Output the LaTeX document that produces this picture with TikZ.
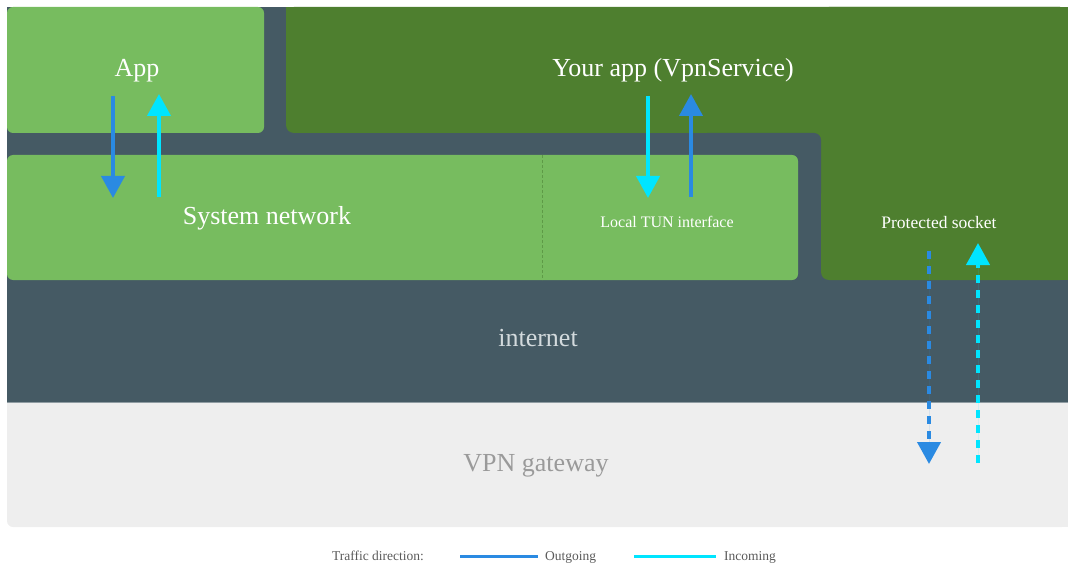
\documentclass[tikz,border=0pt]{standalone}
\usepackage{fontspec}
\setmainfont{Liberation Serif}
\usetikzlibrary{arrows.meta}
\definecolor{slate}{HTML}{455A64}
\definecolor{lgreen}{HTML}{77BC5F}
\definecolor{dgreen}{HTML}{4E7F2F}
\definecolor{lgrey}{HTML}{EEEEEE}
\definecolor{outblue}{HTML}{2A8AE2}
\definecolor{incyan}{HTML}{00E5FF}
\definecolor{divgreen}{HTML}{5E9A47}
\definecolor{nettext}{HTML}{D3DADD}
\definecolor{gwtext}{HTML}{9A9A9A}
\definecolor{legtext}{HTML}{5A5A5A}
\tikzset{
  bigtxt/.style={text=white, font=\fontsize{26}{30}\selectfont, inner sep=0pt, anchor=base},
  smalltxt/.style={text=white, font=\fontsize{16}{19}\selectfont, inner sep=0pt, anchor=base},
  flow/.style={line width=4pt, -{Triangle[width=23pt,length=22pt]}},
  outflow/.style={flow, draw=outblue, fill=outblue},
  inflow/.style={flow, draw=incyan, fill=incyan},
  dashflow/.style={dash pattern=on 8pt off 7pt},
  legline/.style={line width=3pt},
  legtxt/.style={text=legtext, font=\fontsize{13.5}{16}\selectfont, inner sep=0pt, anchor=base}
}
\begin{document}
\begin{tikzpicture}[x=1pt,y=-1pt]
\useasboundingbox (0,0) rectangle (1068,564);
% backgrounds
\fill[slate] (7,7) rectangle (1068,402);
\fill[lgrey, rounded corners=6] (7,402) rectangle (1068,527);
\fill[lgrey] (7,402) rectangle (1068,420);
\fill[lgrey] (1040,402) rectangle (1068,527);
\draw[slate!60!white, line width=0.8pt] (7,402.4) -- (1068,402.4);
\fill[lgreen, rounded corners=6] (7,7) rectangle (264,133);
% dark green L shape
\fill[dgreen, rounded corners=8] (286,7) rectangle (1068,133);
\fill[dgreen] (286,7) rectangle (1068,20);
\fill[dgreen, rounded corners=8] (821,7) rectangle (1068,280);
\fill[dgreen] (1040,7) rectangle (1068,280);
\fill[dgreen] (800,125) rectangle (821,150);
\fill[slate, rounded corners=7] (700,133) rectangle (821,200);
% system network
\fill[lgreen, rounded corners=6] (7,155) rectangle (798,280);
\draw[divgreen, line width=0.8pt, dash pattern=on 3pt off 2pt] (542,155) -- (542,280);
% labels
\node[bigtxt] (app) at (137,77) {App};
\node[bigtxt] (yourapp) at (673,77) {Your app (VpnService)};
\node[bigtxt] (sysnet) at (267,225) {System network};
\node[smalltxt] (tun) at (667,227) {Local TUN interface};
\node[smalltxt, font=\fontsize{17.5}{20}\selectfont] (psock) at (939,229) {Protected socket};
\node[bigtxt, text=nettext] (inet) at (538,346) {internet};
\node[bigtxt, text=gwtext] (gw) at (536,471) {VPN gateway};
% arrow end points
\coordinate (a1s) at (113,96);  \coordinate (a1e) at (113,198);
\coordinate (a2s) at (159,197); \coordinate (a2e) at (159,94);
\coordinate (b1s) at (648,96);  \coordinate (b1e) at (648,198);
\coordinate (b2s) at (691,197); \coordinate (b2e) at (691,94);
\coordinate (c1s) at (929,251); \coordinate (c1e) at (929,464);
\coordinate (c2s) at (978,463); \coordinate (c2e) at (978,243);
\draw[outflow] (a1s) -- (a1e);
\draw[inflow] (a2s) -- (a2e);
\draw[inflow] (b1s) -- (b1e);
\draw[outflow] (b2s) -- (b2e);
\draw[outflow, dashflow] (c1s) -- (c1e);
\draw[inflow, dashflow] (c2s) -- (c2e);
% legend
\node[legtxt] (legt) at (378,560) {Traffic direction:};
\coordinate (lo1) at (460,556); \coordinate (lo2) at (538,556);
\coordinate (li1) at (634,556); \coordinate (li2) at (716,556);
\draw[legline, outblue] (lo1) -- (lo2);
\node[legtxt, anchor=base west] (lego) at (545,560) {Outgoing};
\draw[legline, incyan] (li1) -- (li2);
\node[legtxt, anchor=base west] (legi) at (724,560) {Incoming};
\end{tikzpicture}
\end{document}
